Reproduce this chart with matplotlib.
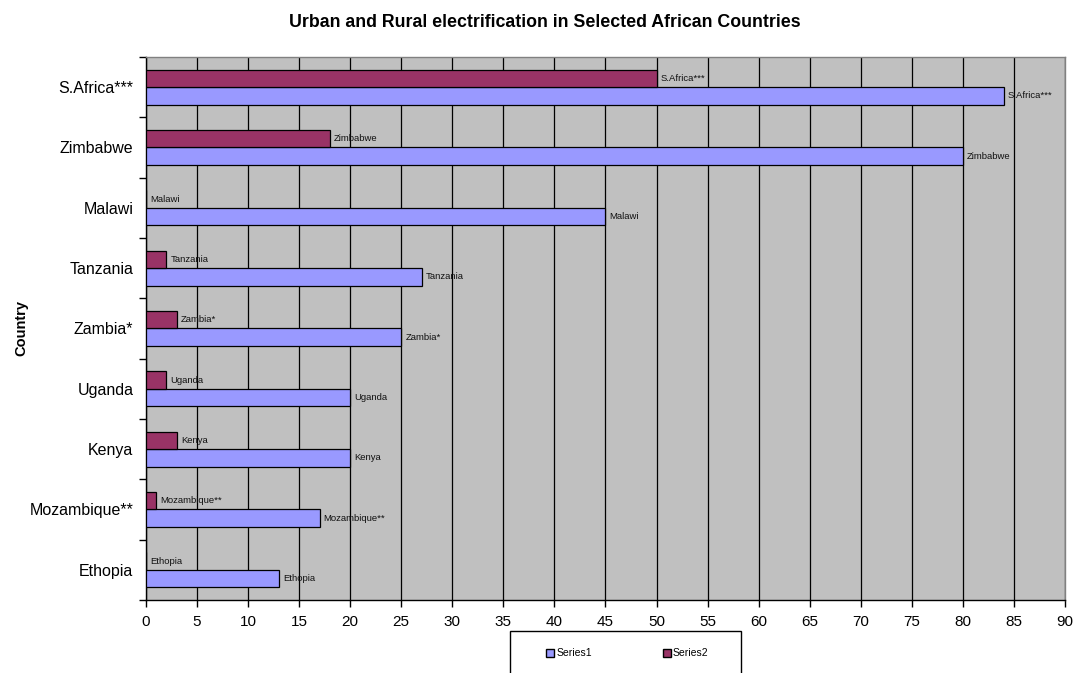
import matplotlib.pyplot as plt
import matplotlib.patches as mpatches
import numpy as np

plt.rcParams['font.family'] = ['Liberation Sans', 'DejaVu Sans']

# data, bottom category first
countries = ['Ethopia', 'Mozambique**', 'Kenya', 'Uganda', 'Zambia*',
             'Tanzania', 'Malawi', 'Zimbabwe', 'S.Africa***']
series1 = [13, 17, 20, 20, 25, 27, 45, 80, 84]
series2 = [0, 1, 3, 2, 3, 2, 0, 18, 50]

blue = '#9999FF'
maroon = '#993366'

fig = plt.figure(figsize=(10.74, 6.73), dpi=100)
ax = fig.add_axes([0.1359, 0.1085, 0.8557, 0.8068])
ax.set_facecolor('#C0C0C0')

y = np.arange(len(countries))
h = 0.29
b1 = ax.barh(y - h / 2, series1, height=h, color=blue, edgecolor='black', linewidth=0.9, zorder=3)
b2 = ax.barh(y + h / 2, series2, height=h, color=maroon, edgecolor='black', linewidth=0.9, zorder=3)

# data labels (country names next to each bar)
for i, name in enumerate(countries):
    ax.annotate(name, (series1[i], y[i] - h / 2), xytext=(3, 0), textcoords='offset points',
                va='center', ha='left', fontsize=6.8, color='#111111', zorder=4)
    ax.annotate(name, (series2[i], y[i] + h / 2), xytext=(3, 0), textcoords='offset points',
                va='center', ha='left', fontsize=6.8, color='#111111', zorder=4)

ax.set_xlim(0, 90)
ax.set_ylim(-0.5, len(countries) - 0.5)
ax.set_xticks(np.arange(0, 91, 5))
ax.tick_params(axis='x', labelsize=11, length=5, width=1, direction='out', pad=6)
ax.grid(axis='x', color='black', linewidth=0.9, zorder=1)

# ticks on category boundaries, labels at centres
ax.set_yticks(np.arange(-0.5, len(countries), 1))
ax.set_yticklabels([])
ax.tick_params(axis='y', which='major', length=5, width=1, direction='out')
ax.set_yticks(y, minor=True)
ax.set_yticklabels(countries, minor=True, fontsize=11.5)
ax.tick_params(axis='y', which='minor', length=0, pad=9)

ax.spines['left'].set_color('black')
ax.spines['bottom'].set_color('black')
ax.spines['top'].set_color('#808080')
ax.spines['right'].set_color('#808080')
for s in ax.spines.values():
    s.set_linewidth(1)

ax.set_ylabel('Country', fontsize=10.5, fontweight='bold', labelpad=12)
ax.yaxis.set_label_coords(-0.128, 0.5)
fig.suptitle('Urban and Rural electrification in Selected African Countries',
             fontsize=12.8, fontweight='bold', x=0.507, y=0.979)

# legend box, runs off the bottom edge like the original
fig.patches.append(mpatches.Rectangle((0.4749, -0.02), 0.2151, 0.0826, transform=fig.transFigure,
                                      facecolor='white', edgecolor='black', linewidth=1))
handles = [mpatches.Patch(facecolor=blue, edgecolor='black', label='Series1'),
           mpatches.Patch(facecolor=maroon, edgecolor='black', label='Series2')]
fig.legend(handles=handles, loc='center', bbox_to_anchor=(0.584, 0.029), ncol=2, frameon=False,
           fontsize=7.5, handlelength=0.8, handleheight=0.8, handletextpad=0.2, columnspacing=6.8)

fig.savefig('out.png', dpi=100)
